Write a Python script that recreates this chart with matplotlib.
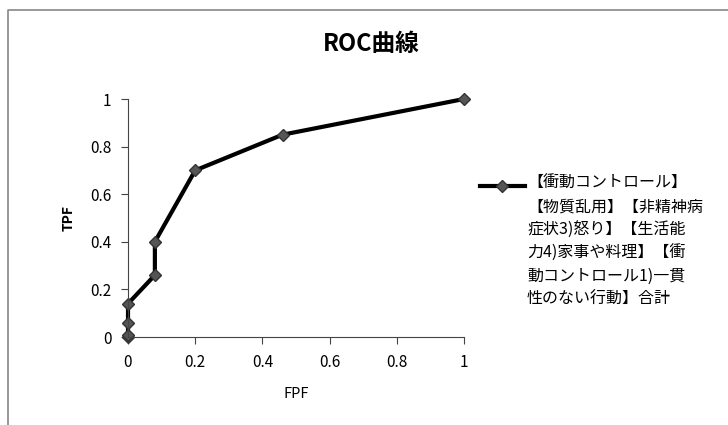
import matplotlib

matplotlib.use("Agg")

import matplotlib.pyplot as plt
from matplotlib.lines import Line2D

plt.rcParams["font.family"] = ["Noto Sans CJK JP", "DejaVu Sans"]

fpf = [0.0, 0.0, 0.0, 0.0, 0.08, 0.08, 0.2, 0.46, 1.0]
tpf = [0.0, 0.01, 0.06, 0.14, 0.26, 0.40, 0.70, 0.85, 1.0]
series_label = ("【衝動コントロール】\n【物質乱用】【非精神病\n症状3)怒り】【生活能\n"
                "力4)家事や料理】【衝\n動コントロール1)一貫\n性のない行動】合計")
ticks = [0, 0.2, 0.4, 0.6, 0.8, 1]
tick_labels = ["0", "0.2", "0.4", "0.6", "0.8", "1"]

W, H = 728, 425
fig = plt.figure(figsize=(W / 100, H / 100), dpi=100)
ax = fig.add_axes([128 / W, 1 - 337 / H, 336 / W, 238 / H])

line_style = dict(color="black", linewidth=3, marker="D", markersize=6,
                  markerfacecolor="#555555", markeredgecolor="#333333")
ax.plot(fpf, tpf, clip_on=False, **line_style)

ax.set_xlim(0, 1)
ax.set_ylim(0, 1)
ax.set_xticks(ticks)
ax.set_xticklabels(tick_labels)
ax.set_yticks(ticks)
ax.set_yticklabels(tick_labels)
ax.tick_params(labelsize=11, length=5, color="#444444", pad=7)
for side in ["top", "right"]:
    ax.spines[side].set_visible(False)
for side in ["left", "bottom"]:
    ax.spines[side].set_color("#444444")

ax.set_xlabel("FPF", fontsize=10.5, labelpad=12)
ax.set_ylabel("TPF", fontsize=10, fontweight="bold", labelpad=10)
fig.text(371 / W, 1 - 44 / H, "ROC曲線", ha="center", va="center",
         fontsize=17, fontweight="bold")

# legend drawn by hand so the key sits on the first wrapped line
key_y = 1 - 186 / H
fig.add_artist(Line2D([480 / W, 525 / W], [key_y, key_y], transform=fig.transFigure,
                      color="black", linewidth=3))
fig.add_artist(Line2D([502 / W], [key_y], transform=fig.transFigure, linestyle="none",
                      marker="D", markersize=6, markerfacecolor="#555555",
                      markeredgecolor="#333333"))
fig.text(527 / W, 1 - 175 / H, series_label, ha="left", va="top",
         fontsize=11.5, linespacing=1.47)

# chart frame: only top and left edges visible in the crop
fig.add_artist(Line2D([8 / W, 8 / W, 1.0], [0.0, 1 - 10 / H, 1 - 10 / H],
                      transform=fig.transFigure, color="#888888", linewidth=1.2))

fig.savefig("out.png", dpi=100)
